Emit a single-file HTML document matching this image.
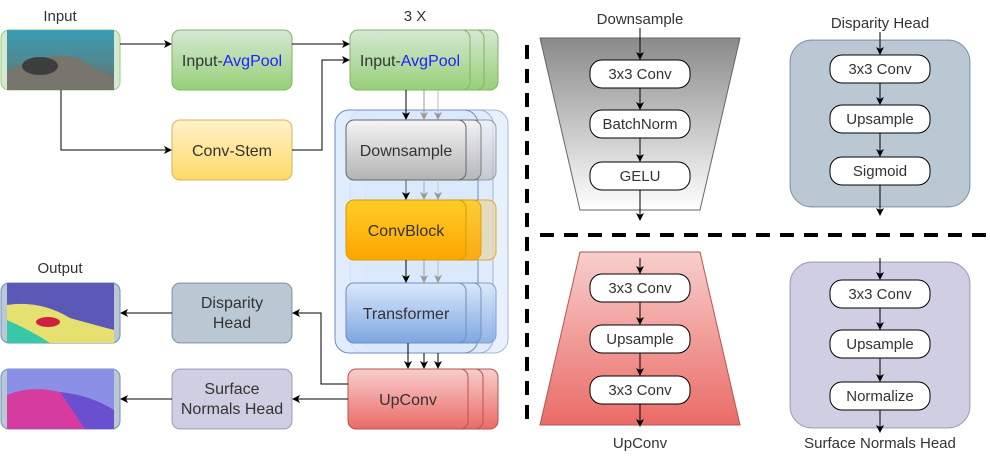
<!DOCTYPE html>
<html><head><meta charset="utf-8"><style>body{margin:0;background:#fff}svg{display:block;font-family:"Liberation Sans",sans-serif}</style></head><body>
<svg width="990" height="461" viewBox="0 0 990 461" xmlns="http://www.w3.org/2000/svg">
<defs>
<marker id="a" markerWidth="8" markerHeight="8" refX="7" refY="4" orient="auto" markerUnits="userSpaceOnUse"><path d="M0,0 L8,4 L0,8 L2,4Z" fill="#000"/></marker>
<marker id="ag" markerWidth="8" markerHeight="8" refX="7" refY="4" orient="auto" markerUnits="userSpaceOnUse"><path d="M0,0 L8,4 L0,8 L2,4Z" fill="#999"/></marker>
<linearGradient id="gG" x1="0" y1="0" x2="0" y2="1"><stop offset="0" stop-color="#d5e8d4"/><stop offset="1" stop-color="#97d077"/></linearGradient>
<linearGradient id="gY" x1="0" y1="0" x2="0" y2="1"><stop offset="0" stop-color="#fff2cc"/><stop offset="1" stop-color="#ffd966"/></linearGradient>
<linearGradient id="gS" x1="0" y1="0" x2="0" y2="1"><stop offset="0" stop-color="#f5f5f5"/><stop offset="1" stop-color="#b3b3b3"/></linearGradient>
<linearGradient id="gO" x1="0" y1="0" x2="0" y2="1"><stop offset="0" stop-color="#ffcd28"/><stop offset="1" stop-color="#ffa500"/></linearGradient>
<linearGradient id="gB" x1="0" y1="0" x2="0" y2="1"><stop offset="0" stop-color="#dae8fc"/><stop offset="1" stop-color="#7ea6e0"/></linearGradient>
<linearGradient id="gR" x1="0" y1="0" x2="0" y2="1"><stop offset="0" stop-color="#f8cecc"/><stop offset="1" stop-color="#ea6b66"/></linearGradient>
<linearGradient id="gT" x1="0" y1="0" x2="0" y2="1"><stop offset="0" stop-color="#8a8a8a"/><stop offset="1" stop-color="#ffffff"/></linearGradient>
<linearGradient id="gU" x1="0" y1="0" x2="0" y2="1"><stop offset="0" stop-color="#f8cecc"/><stop offset="1" stop-color="#ea6b66"/></linearGradient>
<linearGradient id="img1" x1="0" y1="0" x2="0" y2="1"><stop offset="0" stop-color="#3a9bb5"/><stop offset="0.5" stop-color="#4f8a94"/><stop offset="1" stop-color="#6b6a60"/></linearGradient>
</defs>
<g font-size="15" fill="#333" text-anchor="middle">
<!-- left -->
<text x="60" y="21">Input</text>
<rect x="1" y="30" width="119" height="60" rx="8" fill="#d5e8d4" stroke="#97d077"/>
<rect x="7" y="30" width="107" height="60" fill="url(#img1)"/>
<path d="M7,90 L7,72 Q25,62 45,58 Q70,52 85,62 Q100,72 114,78 L114,90Z" fill="#77756c"/>
<ellipse cx="40" cy="66" rx="18" ry="9" fill="#3d3d3d"/>
<line x1="120" y1="44" x2="171" y2="44" stroke="#000" marker-end="url(#a)"/>
<polyline points="61,90 61,150 171,150" fill="none" stroke="#000" marker-end="url(#a)"/>
<g font-size="16">
<rect x="172" y="30" width="120" height="60" rx="8" fill="url(#gG)" stroke="#82b366"/>
<text x="232" y="66">Input-<tspan fill="#1f1fff">AvgPool</tspan></text>
<rect x="172" y="120" width="120" height="60" rx="8" fill="url(#gY)" stroke="#d6b656"/>
<text x="232" y="156">Conv-Stem</text>
</g>
<line x1="292" y1="44" x2="349" y2="44" stroke="#000" marker-end="url(#a)"/>
<polyline points="292,150 322,150 322,60 349,60" fill="none" stroke="#000" marker-end="url(#a)"/>
<text x="415" y="21">3 X</text>
<g font-size="16">
<rect x="378" y="30" width="120" height="60" rx="8" fill="url(#gG)" stroke="#82b366"/>
<rect x="364" y="30" width="120" height="60" rx="8" fill="url(#gG)" stroke="#82b366"/>
<rect x="350" y="30" width="120" height="60" rx="8" fill="url(#gG)" stroke="#82b366"/>
<text x="410" y="66">Input-<tspan fill="#1f1fff">AvgPool</tspan></text>
<!-- blue containers -->
<rect x="365" y="110" width="143" height="243" rx="14" fill="#dae8fc" fill-opacity="0.6" stroke="#6c8ebf" stroke-opacity="0.6"/>
<rect x="350" y="110" width="143" height="243" rx="14" fill="#dae8fc" fill-opacity="0.6" stroke="#6c8ebf" stroke-opacity="0.6"/>
<rect x="335" y="110" width="143" height="243" rx="14" fill="#dae8fc" fill-opacity="0.8" stroke="#6c8ebf"/>
<rect x="376" y="120" width="120" height="60" rx="8" fill="url(#gS)" stroke="#666" opacity="0.6"/>
<rect x="361" y="120" width="120" height="60" rx="8" fill="url(#gS)" stroke="#666" opacity="0.8"/>
<rect x="346" y="120" width="120" height="60" rx="8" fill="url(#gS)" stroke="#666"/>
<text x="406" y="156">Downsample</text>
<rect x="376" y="200" width="120" height="60" rx="8" fill="#e6d9b3" stroke="#d79b00" opacity="0.8"/>
<rect x="361" y="200" width="120" height="60" rx="8" fill="url(#gO)" stroke="#d79b00" opacity="0.9"/>
<rect x="346" y="200" width="120" height="60" rx="8" fill="url(#gO)" stroke="#d79b00"/>
<text x="406" y="236">ConvBlock</text>
<rect x="376" y="283" width="120" height="60" rx="8" fill="url(#gB)" stroke="#6c8ebf" opacity="0.8"/>
<rect x="361" y="283" width="120" height="60" rx="8" fill="url(#gB)" stroke="#6c8ebf" opacity="0.9"/>
<rect x="346" y="283" width="120" height="60" rx="8" fill="url(#gB)" stroke="#6c8ebf"/>
<text x="406" y="319">Transformer</text>
</g>
<line x1="406" y1="90" x2="406" y2="119" stroke="#000" marker-end="url(#a)"/>
<line x1="424" y1="90" x2="424" y2="119" stroke="#999" marker-end="url(#ag)"/>
<line x1="438" y1="90" x2="438" y2="119" stroke="#bbb" marker-end="url(#ag)"/>
<line x1="406" y1="180" x2="406" y2="199" stroke="#555" marker-end="url(#a)"/>
<line x1="424" y1="180" x2="424" y2="199" stroke="#aaa" marker-end="url(#ag)"/>
<line x1="438" y1="180" x2="438" y2="199" stroke="#ccc" marker-end="url(#ag)"/>
<line x1="406" y1="260" x2="406" y2="282" stroke="#000" marker-end="url(#a)"/>
<line x1="424" y1="260" x2="424" y2="282" stroke="#999" marker-end="url(#ag)"/>
<line x1="438" y1="260" x2="438" y2="282" stroke="#bbb" marker-end="url(#ag)"/>
<line x1="408" y1="343" x2="408" y2="368" stroke="#000" marker-end="url(#a)"/>
<line x1="424" y1="353" x2="424" y2="368" stroke="#000" marker-end="url(#a)"/>
<line x1="438" y1="353" x2="438" y2="368" stroke="#000" marker-end="url(#a)"/>
<g font-size="16">
<rect x="378" y="369" width="120" height="60" rx="8" fill="url(#gR)" stroke="#b85450"/>
<rect x="363" y="369" width="120" height="60" rx="8" fill="url(#gR)" stroke="#b85450"/>
<rect x="348" y="369" width="120" height="60" rx="8" fill="url(#gR)" stroke="#b85450"/>
<text x="408" y="405">UpConv</text>
</g>
<polyline points="348,384 321,384 321,313 293,313" fill="none" stroke="#000" marker-end="url(#a)"/>
<line x1="348" y1="399" x2="293" y2="399" stroke="#000" marker-end="url(#a)"/>
<g font-size="16">
<rect x="172" y="283" width="120" height="60" rx="8" fill="#bac8d3" stroke="#23445d" stroke-opacity="0.5"/>
<text x="232" y="308">Disparity</text><text x="232" y="328">Head</text>
<rect x="172" y="369" width="120" height="60" rx="8" fill="#d0cee2" stroke="#56517e" stroke-opacity="0.5"/>
<text x="232" y="394">Surface</text><text x="232" y="414">Normals Head</text>
</g>
<line x1="172" y1="313" x2="121" y2="313" stroke="#000" marker-end="url(#a)"/>
<line x1="172" y1="399" x2="121" y2="399" stroke="#000" marker-end="url(#a)"/>
<text x="60" y="273">Output</text>
<rect x="1" y="283" width="119" height="60" rx="8" fill="#bac8d3" stroke="#6c8ebf"/>
<rect x="7" y="283" width="107" height="60" fill="#5b58b8"/>
<path d="M7,343 L7,305 Q40,300 70,318 Q95,325 114,330 L114,343Z" fill="#e6e070"/>
<path d="M7,343 L7,320 Q30,330 50,343Z" fill="#38c8a8"/>
<ellipse cx="48" cy="322" rx="12" ry="5" fill="#d02040"/>
<rect x="1" y="369" width="119" height="60" rx="8" fill="#bac8d3" stroke="#6c8ebf"/>
<rect x="7" y="369" width="107" height="60" fill="#8c8fe6"/>
<path d="M7,429 L7,395 Q30,385 60,392 Q80,400 90,420 L90,429Z" fill="#d63ca0"/>
<path d="M60,392 Q90,395 114,410 L114,429 L85,429Z" fill="#6a50d0"/>
<!-- dashed -->
<line x1="527" y1="45" x2="527" y2="420" stroke="#000" stroke-width="4" stroke-dasharray="14,10"/>
<line x1="540" y1="235" x2="988" y2="235" stroke="#000" stroke-width="4" stroke-dasharray="14,10"/>
<!-- right top -->
<text x="640" y="24">Downsample</text>
<polygon points="540,38 740,38 700,210 580,210" fill="url(#gT)" stroke="#666"/>
<line x1="640" y1="28" x2="640" y2="59" stroke="#000" marker-end="url(#a)"/>
<line x1="640" y1="88" x2="640" y2="109" stroke="#000" marker-end="url(#a)"/>
<line x1="640" y1="138" x2="640" y2="161" stroke="#000" marker-end="url(#a)"/>
<line x1="640" y1="190" x2="640" y2="220" stroke="#000" marker-end="url(#a)"/>
<rect x="590" y="60" width="100" height="28" rx="12" fill="#fff" stroke="#000"/><text x="640" y="79">3x3 Conv</text>
<rect x="590" y="110" width="100" height="28" rx="12" fill="#fff" stroke="#000"/><text x="640" y="129">BatchNorm</text>
<rect x="590" y="162" width="100" height="28" rx="12" fill="#fff" stroke="#000"/><text x="640" y="181">GELU</text>
<text x="880" y="28">Disparity Head</text>
<rect x="790" y="40" width="180" height="167" rx="22" fill="#bac8d3" stroke="#23445d" stroke-opacity="0.5"/>
<line x1="880" y1="32" x2="880" y2="54" stroke="#000" marker-end="url(#a)"/>
<line x1="880" y1="83" x2="880" y2="104" stroke="#000" marker-end="url(#a)"/>
<line x1="880" y1="133" x2="880" y2="156" stroke="#000" marker-end="url(#a)"/>
<line x1="880" y1="185" x2="880" y2="215" stroke="#000" marker-end="url(#a)"/>
<rect x="830" y="55" width="100" height="28" rx="12" fill="#fff" stroke="#000"/><text x="880" y="74">3x3 Conv</text>
<rect x="830" y="105" width="100" height="28" rx="12" fill="#fff" stroke="#000"/><text x="880" y="124">Upsample</text>
<rect x="830" y="157" width="100" height="28" rx="12" fill="#fff" stroke="#000"/><text x="880" y="176">Sigmoid</text>
<!-- right bottom -->
<polygon points="580,252 700,252 740,425 540,425" fill="url(#gU)" stroke="#b85450"/>
<line x1="640" y1="258" x2="640" y2="273" stroke="#000" marker-end="url(#a)"/>
<line x1="640" y1="302" x2="640" y2="324" stroke="#000" marker-end="url(#a)"/>
<line x1="640" y1="353" x2="640" y2="375" stroke="#000" marker-end="url(#a)"/>
<line x1="640" y1="404" x2="640" y2="426" stroke="#000" marker-end="url(#a)"/>
<rect x="590" y="274" width="100" height="28" rx="12" fill="#fff" stroke="#000"/><text x="640" y="293">3x3 Conv</text>
<rect x="590" y="325" width="100" height="28" rx="12" fill="#fff" stroke="#000"/><text x="640" y="344">Upsample</text>
<rect x="590" y="376" width="100" height="28" rx="12" fill="#fff" stroke="#000"/><text x="640" y="395">3x3 Conv</text>
<text x="640" y="448">UpConv</text>
<rect x="790" y="262" width="180" height="166" rx="22" fill="#d0cee2" stroke="#56517e" stroke-opacity="0.5"/>
<line x1="880" y1="258" x2="880" y2="279" stroke="#000" marker-end="url(#a)"/>
<line x1="880" y1="308" x2="880" y2="329" stroke="#000" marker-end="url(#a)"/>
<line x1="880" y1="358" x2="880" y2="381" stroke="#000" marker-end="url(#a)"/>
<line x1="880" y1="410" x2="880" y2="432" stroke="#000" marker-end="url(#a)"/>
<rect x="830" y="280" width="100" height="28" rx="12" fill="#fff" stroke="#000"/><text x="880" y="299">3x3 Conv</text>
<rect x="830" y="330" width="100" height="28" rx="12" fill="#fff" stroke="#000"/><text x="880" y="349">Upsample</text>
<rect x="830" y="382" width="100" height="28" rx="12" fill="#fff" stroke="#000"/><text x="880" y="401">Normalize</text>
<text x="880" y="448">Surface Normals Head</text>
</g>
</svg>
</body></html>
